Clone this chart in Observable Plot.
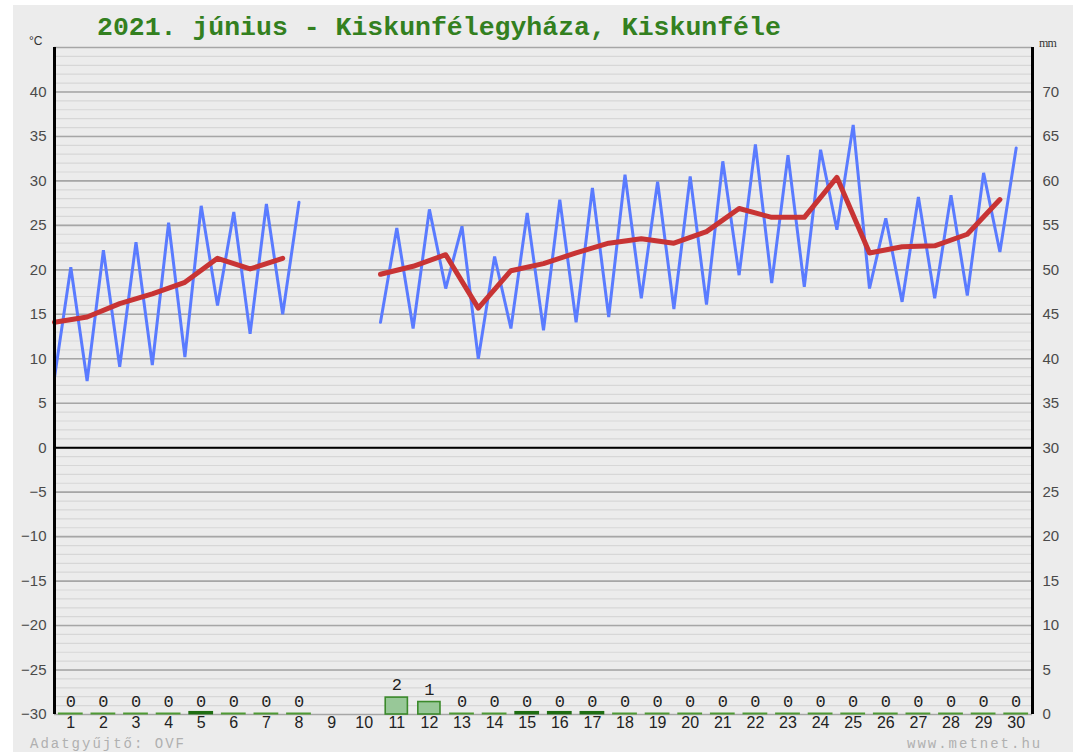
<!DOCTYPE html>
<html>
<head>
<meta charset="utf-8">
<script src="https://cdn.jsdelivr.net/npm/d3@7"></script>
<script src="https://cdn.jsdelivr.net/npm/@observablehq/plot@0.6"></script>
<style>
  html, body { margin: 0; padding: 0; background: #ffffff; width: 1073px; height: 752px; overflow: hidden; }
  #chart { position: absolute; left: 13px; top: 5px; }
  .ov { position: absolute; white-space: nowrap; }
  #title { left: 97px; top: 15px; font-family: "Liberation Mono", monospace; font-weight: bold; font-size: 26.5px; line-height: 26.5px; color: #33801f; }
  #unitC { left: 29px; top: 35px; font-family: "Liberation Sans", sans-serif; font-size: 12px; line-height: 12px; color: #333; }
  #unitMM { left: 1039px; top: 37px; font-family: "Liberation Serif", serif; font-size: 12px; line-height: 12px; color: #333; letter-spacing: -0.8px; }
  .foot { top: 737px; font-family: "Liberation Mono", monospace; font-size: 14px; line-height: 14px; color: #b0b0b0; letter-spacing: 2px; }
  #src { left: 30px; }
  #web { left: 907px; }
</style>
</head>
<body>
<div id="chart"></div>
<div id="title" class="ov">2021. június - Kiskunfélegyháza, Kiskunféle</div>
<div id="unitC" class="ov">°C</div>
<div id="unitMM" class="ov">mm</div>
<div id="src" class="ov foot">Adatgyűjtő: OVF</div>
<div id="web" class="ov foot">www.metnet.hu</div>
<script>
// ---- data ----
const days = [1,2,3,4,5,6,7,8,9,10,11,12,13,14,15,16,17,18,19,20,21,22,23,24,25,26,27,28,29,30];
const tmin = [7.9,7.5,9.1,9.3,10.2,16.0,12.8,15.0,null,null,14.1,13.4,17.9,10.0,13.4,13.2,14.1,14.7,16.8,15.6,16.1,19.4,18.5,18.1,24.5,17.9,16.4,16.8,17.1,22.0];
const tmax = [20.3,22.2,23.1,25.3,27.2,26.5,27.4,27.6,null,null,24.7,26.8,24.9,21.5,26.4,27.9,29.2,30.7,29.9,30.5,32.2,34.1,32.9,33.5,36.3,25.8,28.2,28.4,30.9,33.7];
const tmean = [14.1,14.7,16.2,17.3,18.6,21.3,20.1,21.3,null,null,19.5,20.4,21.7,15.7,19.9,20.7,21.9,23.0,23.5,23.0,24.3,26.9,25.9,25.9,30.4,21.9,22.6,22.7,24.0,27.9];
const precip = [0,0,0,0,0,0,0,0,null,null,1.9,1.4,0,0,0,0,0,0,0,0,0,0,0,0,0,0,0,0,0,0];
const traceDays = [5,15,16,17];
const tempTicks = [40,35,30,25,20,15,10,5,0,-5,-10,-15,-20,-25,-30];
const mmTicks = [70,65,60,55,50,45,40,35,30,25,20,15,10,5,0];
const mmOffset = -30; // 0 mm sits on -30 °C

// ---- tables built from the arrays ----
const rows = days.map((d, i) => ({day: d, min: tmin[i], max: tmax[i], mean: tmean[i], p: precip[i]}));
const bluePts = [];
rows.forEach(r => {
  if (r.min == null) { bluePts.push({x: r.day - 1, y: NaN}); return; }
  bluePts.push({x: r.day - 1, y: r.min});
  bluePts.push({x: r.day - 0.5, y: r.max});
});
const redPts = rows.map(r => ({x: r.day - 1, y: r.mean == null ? NaN : r.mean}));
const withP = rows.filter(r => r.p != null);
const bars = withP.filter(r => r.p > 0);
const zeroNormal = withP.filter(r => r.p === 0 && !traceDays.includes(r.day));
const zeroTrace = withP.filter(r => r.p === 0 && traceDays.includes(r.day));

const F = "'Liberation Sans', Arial, sans-serif";

const chart = Plot.plot({
  width: 1060,
  height: 747,
  marginLeft: 41,
  marginRight: 41,
  marginTop: 42,
  marginBottom: 38,
  style: {background: "#ececec", fontFamily: F, fontSize: "16px", overflow: "visible"},
  x: {type: "linear", domain: [0, 30], axis: null},
  y: {type: "linear", domain: [-30, 45], axis: null},
  marks: [
    Plot.ruleY(d3.range(-30, 46), {stroke: "#d7d7d7", strokeWidth: 1.2}),
    Plot.ruleY(d3.range(-30, 46, 5), {stroke: "#a6a6a6", strokeWidth: 1.6}),
    Plot.ruleY([0], {stroke: "#000", strokeWidth: 2}),
    // precipitation
    Plot.rect(bars, {x1: d => d.day - 1 + 0.16, x2: d => d.day - 0.16, y1: () => mmOffset, y2: d => mmOffset + d.p,
      fill: "#98c898", stroke: "#3b8a2b", strokeWidth: 1.6}),
    Plot.ruleY(zeroNormal, {y: () => mmOffset, x1: d => d.day - 1 + 0.12, x2: d => d.day - 0.12, stroke: "#4f9a34", strokeWidth: 2, dy: -1}),
    Plot.ruleY(zeroTrace, {y: () => mmOffset, x1: d => d.day - 1 + 0.12, x2: d => d.day - 0.12, stroke: "#1f6e12", strokeWidth: 3.5, dy: -1.8}),
    Plot.text(withP, {x: d => d.day - 0.5, y: d => mmOffset + d.p, text: d => String(Math.round(d.p)), dy: -13,
      fontFamily: "'Liberation Mono', monospace", fontSize: 17, fill: "#222"}),
    // temperature
    Plot.line(bluePts, {x: "x", y: "y", stroke: "#5a7bff", strokeWidth: 3, strokeLinejoin: "miter"}),
    Plot.line(redPts, {x: "x", y: "y", stroke: "#c83434", strokeWidth: 5}),
    // frame
    Plot.ruleX([0], {stroke: "#000", strokeWidth: 3}),
    Plot.ruleX([30], {stroke: "#000", strokeWidth: 3}),
    // axes
    Plot.axisY({ticks: tempTicks, tickSize: 0, tickPadding: 8, label: null, color: "#4a4a4a", fontSize: 15}),
    Plot.axisY({anchor: "right", ticks: mmTicks.map(m => m + mmOffset), tickFormat: v => String(Math.round(v - mmOffset)),
      tickSize: 0, tickPadding: 10, label: null, color: "#4a4a4a", fontSize: 15}),
    Plot.text(days, {x: d => d - 0.5, frameAnchor: "bottom", dy: 13, text: d => String(d), fill: "#222", fontSize: 16})
  ]
});
document.getElementById("chart").appendChild(chart);
</script>
</body>
</html>
